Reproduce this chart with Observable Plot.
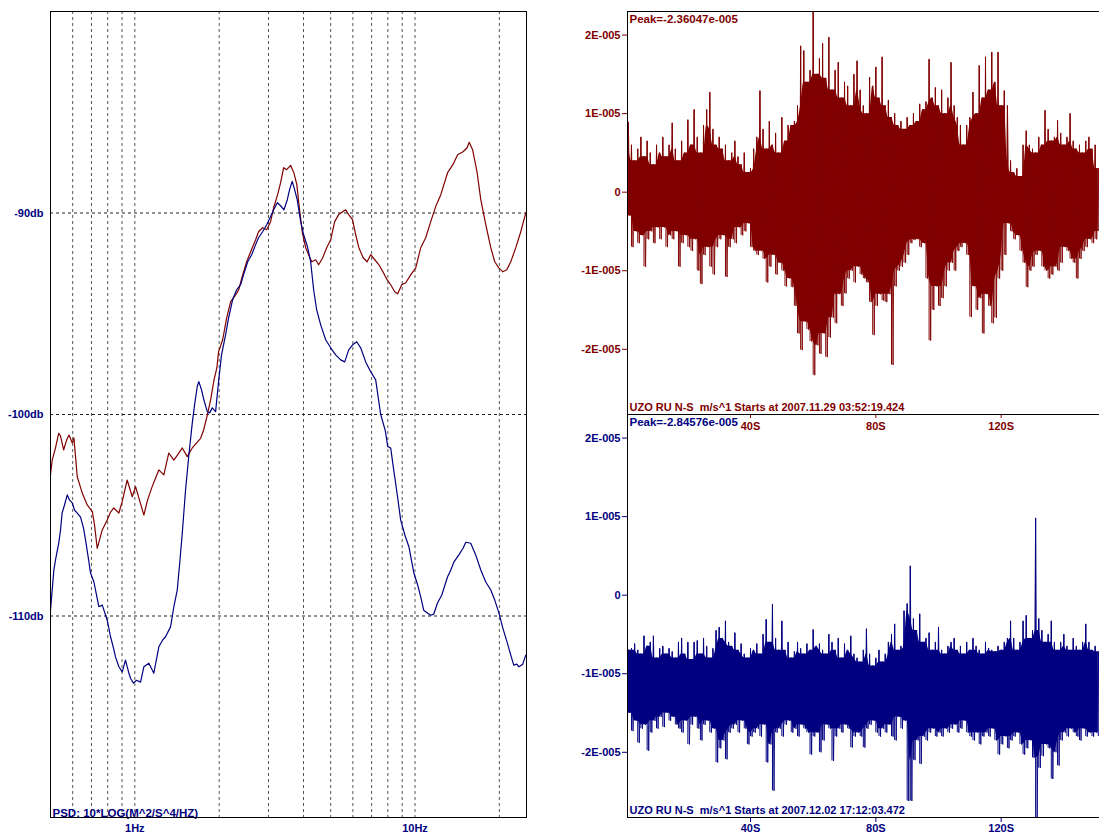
<!DOCTYPE html>
<html><head><meta charset="utf-8">
<script src="https://cdn.jsdelivr.net/npm/d3@7"></script>
<script src="https://cdn.jsdelivr.net/npm/@observablehq/plot@0.6"></script>
<style>
html,body{margin:0;padding:0;background:#fff;overflow:hidden;}
#wrap{position:relative;width:1099px;height:840px;overflow:hidden;background:#fff;}
#wrap svg{position:absolute;top:0;}
#wrap svg text{white-space:pre;}
</style></head><body><div id="wrap"></div>
<script>
// ---------- PSD panel data ----------
const psdXTicks = [1, 10];
const psdXLabels = ["1Hz", "10Hz"];
const psdYTicks = [-90, -100, -110];
const gridFreqs = [0.6, 0.7, 0.8, 0.9, 1, 2, 3, 4, 5, 6, 7, 8, 9, 10, 20];
const psdUnitLabel = "PSD: 10*LOG(M^2/S^4/HZ)";

const redFreq = [0.500,0.507,0.521,0.535,0.543,0.557,0.571,0.582,0.598,0.606,
0.623,0.649,0.676,0.705,0.718,0.734,0.765,0.797,0.819,0.841,
0.877,0.904,0.939,0.979,1.006,1.039,1.077,1.110,1.153,1.186,
1.218,1.269,1.322,1.378,1.421,1.477,1.538,1.603,1.661,1.717,
1.760,1.814,1.864,1.917,1.962,1.990,2.058,2.127,2.197,2.289,
2.349,2.427,2.507,2.590,2.698,2.764,2.858,2.955,3.052,3.129,
3.233,3.314,3.397,3.483,3.598,3.694,3.786,3.860,3.963,4.071,
4.173,4.278,4.420,4.530,4.683,4.839,5.000,5.168,5.341,5.519,
5.657,5.799,5.983,6.142,6.304,6.532,6.749,6.947,7.187,7.433,
7.684,7.946,8.190,8.462,8.675,8.963,9.265,9.652,10.06,10.48,
10.92,11.38,11.86,12.36,13.07,13.65,14.20,14.84,15.34,15.61,
16.05,16.64,17.17,17.89,18.64,19.26,19.91,20.58,21.26,21.97,
22.89,23.85,24.85];
const redDb = [-103.0,-102.26,-101.66,-100.93,-101.07,-101.76,-101.26,-101.02,-101.41,-101.16,
-103.09,-103.9,-104.49,-104.82,-105.48,-106.64,-105.73,-105.24,-104.84,-104.64,
-104.89,-104.25,-103.25,-104.08,-103.58,-104.25,-104.99,-104.25,-103.58,-103.15,
-102.75,-103.0,-101.91,-102.26,-102.0,-101.66,-102.09,-101.66,-101.41,-101.18,
-100.77,-100.03,-99.27,-98.28,-97.69,-96.89,-96.29,-95.2,-94.41,-94.06,
-93.81,-93.06,-92.42,-91.92,-91.33,-90.93,-90.73,-90.83,-90.43,-89.74,
-89.09,-88.49,-87.75,-87.85,-87.64,-88.0,-88.59,-89.67,-90.98,-91.72,
-92.07,-92.42,-92.32,-92.57,-92.22,-91.72,-91.33,-90.43,-90.08,-89.94,
-89.84,-90.08,-90.33,-91.08,-91.72,-92.22,-92.42,-92.07,-92.32,-92.57,
-92.92,-93.31,-93.56,-93.91,-94.01,-93.56,-93.46,-93.07,-92.72,-91.72,
-91.23,-90.43,-89.67,-89.09,-88.0,-87.6,-87.11,-86.96,-86.76,-86.49,
-86.86,-87.95,-89.34,-90.58,-91.72,-92.42,-92.72,-92.92,-92.82,-92.42,
-91.72,-90.93,-89.99];

const blueFreq = [0.500,0.514,0.521,0.535,0.543,0.550,0.561,0.574,0.585,0.598,
0.609,0.623,0.640,0.656,0.667,0.684,0.695,0.714,0.730,0.744,
0.765,0.780,0.797,0.819,0.839,0.853,0.877,0.902,0.926,0.950,
0.965,0.989,1.014,1.048,1.077,1.122,1.169,1.218,1.256,1.287,
1.341,1.378,1.417,1.444,1.477,1.517,1.559,1.603,1.634,1.670,
1.692,1.730,1.763,1.814,1.850,1.890,1.942,1.993,2.039,2.108,
2.161,2.233,2.308,2.385,2.445,2.528,2.612,2.698,2.764,2.858,
2.955,3.052,3.129,3.225,3.314,3.406,3.501,3.567,3.644,3.718,
3.797,3.907,4.004,4.129,4.242,4.347,4.456,4.606,4.799,5.000,
5.210,5.428,5.611,5.799,5.993,6.193,6.399,6.667,6.947,7.239,
7.542,7.834,7.992,8.190,8.394,8.663,8.890,9.201,9.509,9.913,
10.22,10.48,10.74,11.10,11.38,11.66,12.02,12.46,13.07,13.42,
13.78,14.32,14.84,15.18,15.81,16.48,17.17,17.89,18.64,19.26,
19.95,20.58,21.38,21.97,22.51,23.08,23.48,24.24,24.85];
const blueDb = [-109.71,-107.72,-107.22,-106.38,-105.73,-104.89,-104.49,-103.99,-104.25,-104.39,
-104.74,-104.89,-105.09,-105.64,-106.23,-107.22,-107.87,-108.3,-108.96,-109.54,
-109.46,-109.81,-110.21,-111.03,-111.59,-112.03,-112.52,-112.77,-112.19,-112.79,
-113.09,-113.33,-113.19,-113.28,-112.52,-112.34,-112.84,-111.53,-111.2,-111.03,
-110.54,-109.54,-108.71,-107.47,-105.88,-103.75,-102.01,-100.43,-99.52,-98.61,
-98.37,-98.78,-99.27,-99.86,-99.92,-99.67,-99.86,-98.28,-97.04,-96.05,
-95.2,-94.31,-93.81,-93.56,-93.06,-92.42,-92.07,-91.57,-91.23,-90.93,
-90.58,-90.17,-89.84,-89.49,-89.64,-89.84,-89.34,-88.84,-88.43,-88.84,
-89.34,-90.42,-91.08,-91.66,-92.42,-93.81,-94.8,-95.55,-96.29,-96.69,
-97.04,-97.29,-97.39,-96.79,-96.54,-96.39,-96.69,-97.39,-97.88,-98.28,
-100.0,-100.8,-101.59,-101.67,-102.75,-104.08,-105.24,-105.98,-106.56,-107.88,
-108.46,-109.05,-109.71,-109.86,-109.96,-109.91,-109.37,-108.96,-108.05,-107.72,
-107.31,-106.98,-106.64,-106.34,-106.39,-106.98,-107.72,-108.31,-108.71,-109.21,
-109.87,-110.6,-111.36,-111.94,-112.44,-112.39,-112.52,-112.39,-111.94];

// ---------- Waveform panels data (units of 1E-005, one max/min pair per second, t = 1..151 s) ----------
const waveXTicks = [40, 80, 120];
const waveYTicks = [-2, -1, 0, 1, 2];
const topPeakLabel = "Peak=-2.36047e-005";
const topInfoLabel = "UZO RU N-S  m/s^1 Starts at 2007.11.29 03:52:19.424";
const botPeakLabel = "Peak=-2.84576e-005";
const botInfoLabel = "UZO RU N-S  m/s^1 Starts at 2007.12.02 17:12:03.472";

const topHi = [0.89,0.6,0.4,0.55,0.7,0.45,0.65,0.5,0.35,0.6,
0.5,0.7,0.45,0.6,0.88,0.55,0.4,0.65,0.5,0.92,
0.6,1.05,0.7,0.5,0.85,1.05,1.27,0.8,0.6,0.7,
0.55,0.6,0.4,0.5,0.65,0.45,0.35,0.5,0.25,0.3,0.55,
0.7,1.29,0.8,0.55,0.9,0.6,0.75,0.5,0.95,0.65,0.85,
0.85,0.9,1.1,
1.86,1.8,1.4,1.55,2.4,1.5,1.7,1.89,1.45,1.97,1.3,1.55,1.65,1.2,1.4,1.35,1.1,1.5,1.67,1.3,
1.1,1.0,1.46,1.35,1.59,1.2,1.72,1.1,1.17,0.95,
1.0,0.85,0.9,0.8,0.95,0.85,1.0,0.9,1.12,1.05,
1.15,1.69,1.2,1.33,1.1,1.3,1.0,1.2,1.65,1.1,
0.95,0.85,0.6,0.85,0.95,1.27,1.0,1.61,1.2,1.72,
1.3,1.78,1.4,1.78,1.1,1.29,1.1,0.4,0.25,0.3,
0.2,0.6,0.78,0.6,0.55,0.5,0.7,0.6,1.04,0.8,
0.65,0.7,0.91,0.75,0.6,0.7,1.0,0.65,0.55,0.6,
0.5,0.65,0.7,0.55,0.6,0.3];
const topLo = [-0.3,-0.7,-0.5,-0.65,-0.55,-0.95,-0.6,-0.5,-0.65,-0.45,
-0.6,-0.45,-0.7,-0.55,-0.6,-0.5,-0.95,-0.65,-0.55,-0.7,
-0.75,-0.6,-1.0,-1.17,-0.8,-0.7,-0.95,-1.05,-0.7,-0.6,
-0.55,-1.08,-0.7,-0.6,-0.65,-0.45,-0.55,-0.5,-0.4,-0.7,-0.75,
-0.8,-0.75,-0.85,-1.15,-0.95,-0.8,-1.05,-0.9,-1.0,-1.2,-1.1,
-1.21,-1.45,-1.8,
-2.01,-1.65,-1.75,-1.9,-2.33,-1.95,-2.06,-1.8,-2.1,-1.85,-1.6,-1.67,-1.3,-1.45,-1.29,-1.1,-1.0,-1.15,-0.95,-1.05,
-1.1,-1.15,-1.4,-1.82,-1.45,-1.3,-1.38,-1.4,-1.3,-2.2,
-1.2,-1.0,-0.95,-0.9,-0.8,-0.65,-0.61,-0.6,-0.7,-0.65,
-1.1,-1.89,-1.5,-1.2,-1.45,-1.35,-1.2,-1.0,-0.9,-1.0,
-0.75,-0.7,-0.65,-0.8,-1.59,-1.2,-1.5,-1.35,-1.8,-1.3,
-1.45,-1.67,-1.6,-1.1,-1.0,-0.8,-0.4,-0.5,-0.6,-0.55,
-0.75,-0.9,-1.21,-1.0,-0.95,-0.8,-0.75,-0.95,-1.0,-1.1,
-1.05,-0.95,-1.0,-0.9,-0.7,-0.75,-0.85,-0.9,-1.1,-0.85,
-0.75,-0.7,-0.6,-0.65,-0.6,-0.5];

const botHi = [-0.7,-0.68,-0.62,-0.7,-0.75,-0.52,-0.65,-0.6,-0.52,-0.8,
-0.68,-0.65,-0.75,-0.68,-0.72,-0.8,-0.6,-0.55,-0.75,-0.6,
-0.82,-0.6,-0.58,-0.75,-0.55,-0.65,-0.8,-0.68,-0.45,-0.41,
-0.55,-0.33,-0.6,-0.65,-0.48,-0.7,-0.62,-0.75,-0.8,-0.68,
-0.7,-0.62,-0.75,-0.5,-0.31,-0.6,-0.12,-0.55,-0.7,-0.33,
-0.7,-0.6,-0.8,-0.72,-0.6,-0.68,-0.75,-0.62,-0.7,-0.44,
-0.65,-0.62,-0.7,-0.75,-0.5,-0.6,-0.7,-0.55,-0.8,-0.62,
-0.7,-0.52,-0.75,-0.8,-0.85,
-0.7,-0.43,-0.75,-0.9,-0.8,-0.7,-0.85,-0.75,-0.6,-0.5,
-0.37,-0.7,-0.65,-0.2,-0.11,0.37,-0.3,-0.45,-0.24,-0.6,
-0.55,-0.48,-0.7,-0.6,-0.41,-0.7,-0.75,-0.65,-0.6,-0.55,
-0.7,-0.65,-0.75,-0.6,-0.7,-0.55,-0.65,-0.7,-0.75,-0.6,
-0.68,-0.7,-0.72,-0.65,-0.7,-0.6,-0.55,-0.33,-0.55,-0.7,
-0.6,-0.33,-0.26,-0.55,-0.45,0.98,-0.3,-0.45,-0.6,-0.5,
-0.33,-0.6,-0.7,-0.6,-0.5,-0.65,-0.7,-0.55,-0.65,-0.7,
-0.6,-0.37,-0.6,-0.7,-0.65,-0.72];
const botLo = [-1.5,-1.73,-1.6,-1.88,-1.7,-1.65,-1.98,-1.75,-1.6,-1.7,
-1.55,-1.68,-1.5,-1.6,-1.55,-1.65,-1.7,-1.75,-1.6,-1.9,
-1.65,-1.55,-1.7,-1.85,-1.65,-1.6,-1.75,-1.7,-2.13,-1.95,
-1.85,-2.09,-1.75,-1.7,-1.65,-1.75,-1.6,-1.7,-1.9,-1.8,
-1.75,-1.7,-1.8,-1.65,-2.13,-1.9,-2.49,-1.75,-1.7,-1.8,
-1.65,-1.6,-1.75,-1.7,-1.8,-1.65,-1.7,-1.75,-2.03,-1.8,
-1.75,-2.0,-1.85,-1.65,-1.7,-2.11,-1.8,-1.7,-1.75,-1.65,
-1.7,-1.94,-1.8,-1.75,-1.8,
-1.94,-1.7,-1.65,-1.6,-1.75,-1.8,-1.7,-1.75,-1.65,-1.8,
-1.85,-1.55,-1.7,-1.6,-2.62,-2.62,-2.1,-1.85,-2.15,-1.8,
-1.85,-1.75,-1.7,-1.8,-1.75,-1.8,-1.7,-1.75,-1.7,-1.65,
-1.75,-1.7,-1.6,-1.75,-1.8,-1.85,-1.75,-1.9,-1.8,-1.75,
-1.8,-1.7,-1.85,-2.03,-1.9,-1.8,-1.95,-1.85,-1.8,-1.75,
-1.9,-2.03,-1.95,-1.85,-2.07,-2.83,-2.2,-2.05,-1.9,-1.95,
-2.34,-2.0,-2.17,-1.85,-1.75,-1.8,-1.7,-1.75,-1.8,-1.85,
-1.7,-1.8,-1.75,-1.8,-1.75,-1.8];

// ---------- build tables ----------
const redData = redFreq.map((f, i) => ({f, db: redDb[i]}));
const blueData = blueFreq.map((f, i) => ({f, db: blueDb[i]}));
// one record per second: extremes, plus the band every neighbouring trace swing covers
function samples(hi, lo) {
  return hi.map((h, i) => ({
    t: i + 1, hi: h, lo: lo[i],
    coreHi: Math.min(h, hi[i - 1] ?? h, hi[i + 1] ?? h),
    coreLo: Math.max(lo[i], lo[i - 1] ?? lo[i], lo[i + 1] ?? lo[i])
  }));
}
function zig(hi, lo) {
  const out = [];
  hi.forEach((h, i) => { out.push({t: i + 1, v: h}); out.push({t: i + 1.5, v: lo[i]}); });
  return out;
}
const topS = samples(topHi, topLo), botS = samples(botHi, botLo);
const topWave = zig(topHi, topLo), botWave = zig(botHi, botLo);

const MAROON = "#800000", NAVY = "#000080";
const FONT = "'Liberation Sans', Arial, sans-serif";
const ampLabel = d => d === 0 ? "0" : (d < 0 ? "-" : "") + Math.abs(d) + "E-005";
const baseStyle = c => ({background: "transparent", overflow: "visible", fontFamily: FONT, fontSize: "11px", fontWeight: "bold", color: c});

function traceMarks(S, W, color) {
  return [
    Plot.areaY(S, {x: "t", y1: "coreLo", y2: "coreHi", fill: color, curve: "monotone-x", clip: true}),
    Plot.line(W, {x: "t", y: "v", stroke: color, strokeWidth: 0.9, clip: true}),
    Plot.ruleX(S, {x: "t", y1: "lo", y2: "hi", stroke: color, strokeWidth: 1, clip: true})
  ];
}

const wrap = document.getElementById("wrap");

// ---------- PSD plot ----------
const psdPlot = Plot.plot({
  width: 540, height: 840,
  marginLeft: 50, marginRight: 14, marginTop: 11, marginBottom: 23,
  style: baseStyle(NAVY),
  x: {type: "log", domain: [0.5, 25], ticks: psdXTicks, tickFormat: d => psdXLabels[psdXTicks.indexOf(d)], tickSize: 0, tickPadding: 7, label: null},
  y: {domain: [-120, -80], ticks: psdYTicks, tickFormat: d => "-" + Math.abs(d) + "db", tickSize: 0, tickPadding: 7, label: null},
  marks: [
    Plot.ruleX(gridFreqs, {stroke: "#555", strokeDasharray: "3,3"}),
    Plot.ruleY(psdYTicks, {stroke: "#222", strokeDasharray: "3,3"}),
    Plot.line(redData, {x: "f", y: "db", stroke: MAROON, strokeWidth: 1.2}),
    Plot.line(blueData, {x: "f", y: "db", stroke: NAVY, strokeWidth: 1.2}),
    Plot.text([psdUnitLabel], {text: d => d, frameAnchor: "bottom-left", textAnchor: "start", lineAnchor: "bottom", dx: 2, dy: -1, fill: NAVY, fontSize: 11.5, fontWeight: "bold"}),
    Plot.frame({stroke: "#000"})
  ]
});
psdPlot.style.left = "0px";
wrap.appendChild(psdPlot);

// ---------- bottom waveform ----------
const botPlot = Plot.plot({
  width: 570, height: 840,
  marginLeft: 87, marginRight: 0, marginTop: 414, marginBottom: 23,
  style: baseStyle(NAVY),
  x: {domain: [0.73, 154.9], ticks: waveXTicks, tickFormat: d => d + "S", tickSize: 5, tickPadding: 2, label: null},
  y: {domain: [-2.83, 2.30], ticks: waveYTicks, tickFormat: ampLabel, tickSize: 5, tickPadding: 2, label: null},
  marks: [
    ...traceMarks(botS, botWave, NAVY),
    Plot.text([botPeakLabel], {text: d => d, frameAnchor: "top-left", textAnchor: "start", lineAnchor: "top", dx: 2, dy: 3, fill: NAVY, fontSize: 11.5, fontWeight: "bold"}),
    Plot.text([botInfoLabel], {text: d => d, frameAnchor: "bottom-left", textAnchor: "start", lineAnchor: "bottom", dx: 2, dy: -4, fill: NAVY, fontSize: 11, fontWeight: "bold"}),
    Plot.frame({stroke: "#000"})
  ]
});
botPlot.style.left = "540px";
wrap.appendChild(botPlot);

// ---------- top waveform ----------
const topPlot = Plot.plot({
  width: 570, height: 440,
  marginLeft: 87, marginRight: 0, marginTop: 11, marginBottom: 26,
  style: baseStyle(MAROON),
  x: {domain: [0.73, 154.9], ticks: waveXTicks, tickFormat: d => d + "S", tickSize: 4, tickPadding: 4, label: null},
  y: {domain: [-2.83, 2.30], ticks: waveYTicks, tickFormat: ampLabel, tickSize: 5, tickPadding: 2, label: null},
  marks: [
    ...traceMarks(topS, topWave, MAROON),
    Plot.text([topPeakLabel], {text: d => d, frameAnchor: "top-left", textAnchor: "start", lineAnchor: "top", dx: 2, dy: 3, fill: MAROON, fontSize: 11.5, fontWeight: "bold"}),
    Plot.text([topInfoLabel], {text: d => d, frameAnchor: "bottom-left", textAnchor: "start", lineAnchor: "bottom", dx: 2, dy: -4, fill: MAROON, fontSize: 11, fontWeight: "bold"}),
    Plot.frame({stroke: "#000"})
  ]
});
topPlot.style.left = "540px";
wrap.appendChild(topPlot);
</script></body></html>
